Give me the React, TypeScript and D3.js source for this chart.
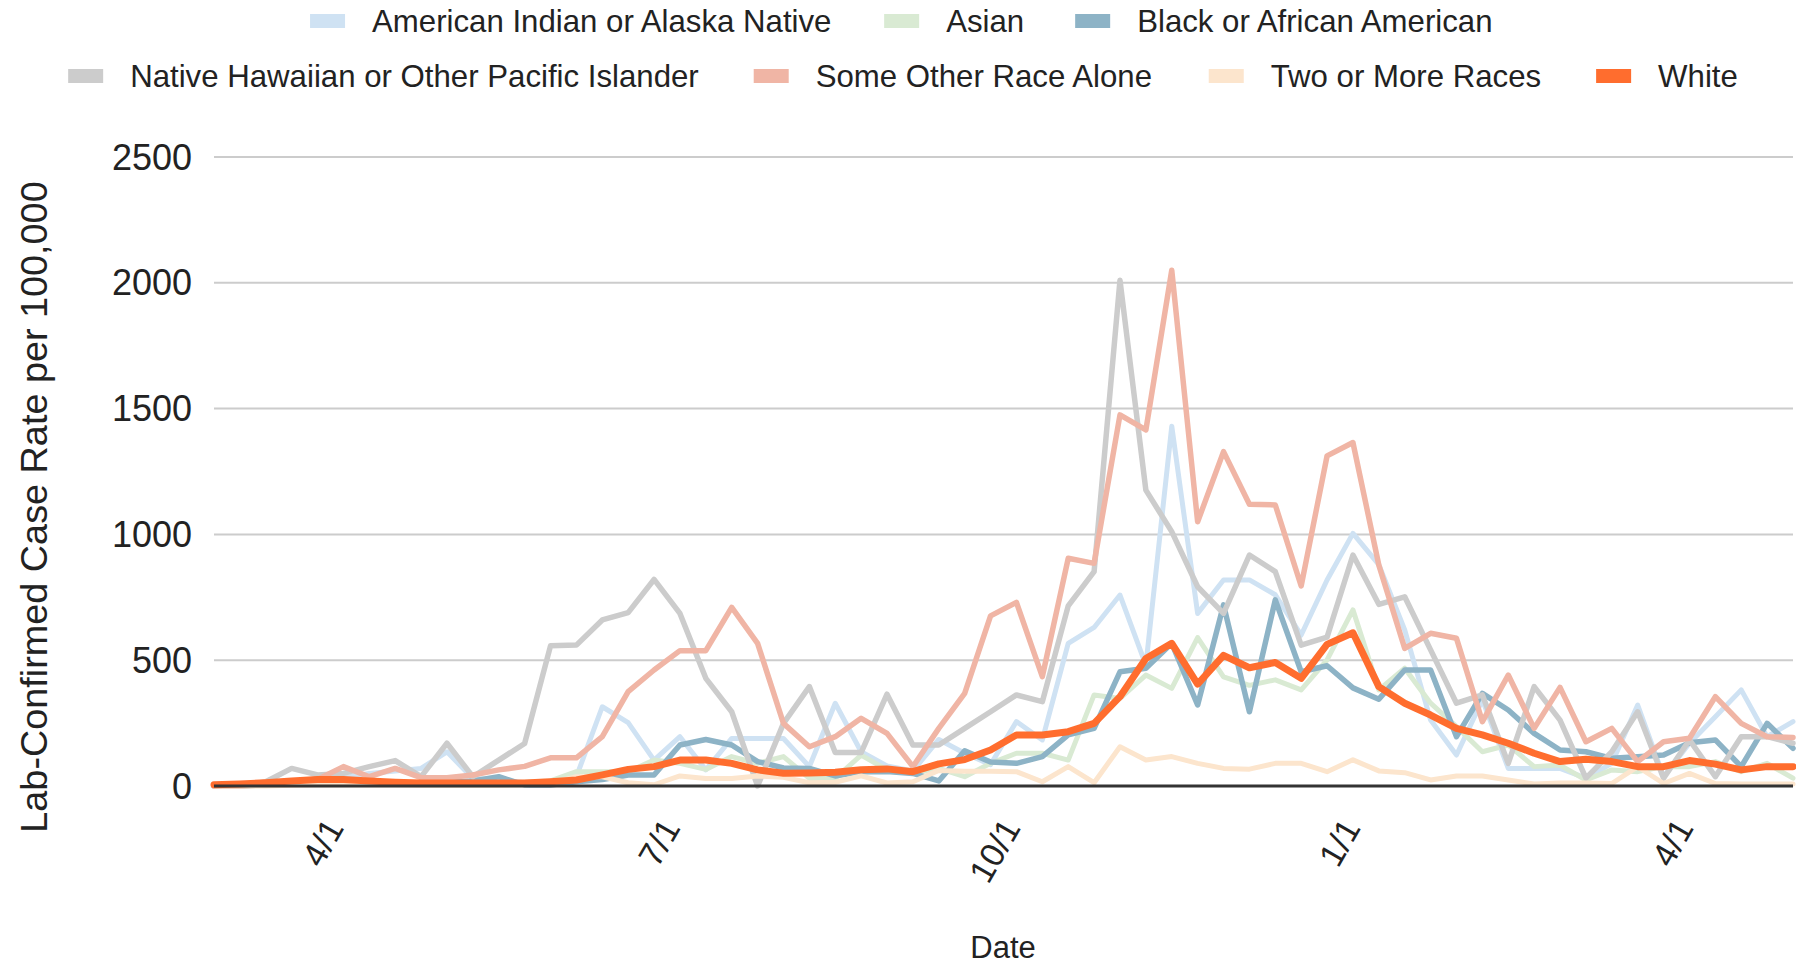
import React, { useEffect } from 'react';
import * as d3 from 'd3';

const weekDates = [
  '2020-02-29','2020-03-07','2020-03-14','2020-03-21','2020-03-28','2020-04-04','2020-04-11','2020-04-18','2020-04-25',
  '2020-05-02','2020-05-09','2020-05-16','2020-05-23','2020-05-30','2020-06-06','2020-06-13','2020-06-20','2020-06-27',
  '2020-07-04','2020-07-11','2020-07-18','2020-07-25','2020-08-01','2020-08-08','2020-08-15','2020-08-22','2020-08-29',
  '2020-09-05','2020-09-12','2020-09-19','2020-09-26','2020-10-03','2020-10-10','2020-10-17','2020-10-24','2020-10-31',
  '2020-11-07','2020-11-14','2020-11-21','2020-11-28','2020-12-05','2020-12-12','2020-12-19','2020-12-26','2021-01-02',
  '2021-01-09','2021-01-16','2021-01-23','2021-01-30','2021-02-06','2021-02-13','2021-02-20','2021-02-27','2021-03-06',
  '2021-03-13','2021-03-20','2021-03-27','2021-04-03','2021-04-10','2021-04-17','2021-04-24','2021-05-01'
];

const aian = [0,0,10,20,25,33,50,60,70,136,30,25,13,10,37,315,252,103,196,64,189,189,189,77,329,136,80,60,185,130,85,256,183,567,630,759,480,1430,686,819,819,760,600,819,1004,880,620,262,123,342,70,70,70,31,90,322,37,170,275,382,196,256];
const asian = [0,0,5,10,15,15,10,10,10,10,10,10,15,20,57,57,57,103,90,66,117,90,117,30,30,123,64,50,70,37,90,130,130,103,362,348,441,388,590,434,400,422,382,501,700,382,468,329,236,136,163,77,83,24,64,57,77,77,97,57,90,31];
const black = [0,0,5,10,15,15,10,10,10,15,20,37,4,4,17,26,44,44,163,185,163,97,72,70,40,57,58,50,20,140,95,90,117,203,229,454,468,567,322,720,295,740,454,478,390,345,461,461,196,368,302,209,143,136,110,116,123,172,183,77,249,150];
const nhpi = [0,0,17,70,44,50,77,101,37,170,37,103,169,557,560,660,689,821,686,428,295,0,249,395,133,133,365,163,163,229,295,362,335,716,852,2010,1176,1011,792,686,918,852,560,592,918,722,752,541,329,362,90,395,262,31,136,295,31,183,37,196,196,170];
const otherRace = [0,0,5,15,26,77,37,70,33,33,44,64,78,112,112,196,375,461,538,538,710,567,249,156,196,269,209,77,229,368,676,730,435,905,885,1475,1415,2050,1050,1329,1120,1117,795,1312,1365,878,547,607,587,256,441,229,392,176,229,97,176,190,355,249,196,193];
const twoOrMore = [0,0,0,3,5,5,5,5,3,3,3,3,5,10,37,37,13,5,40,30,30,40,35,13,15,40,12,17,62,59,59,57,17,77,13,156,103,117,90,70,67,90,90,57,104,60,53,24,40,40,24,8,12,12,10,77,10,50,10,8,8,8];
const white = [5,8,13,20,26,26,20,15,12,12,12,12,12,17,24,44,66,77,103,103,90,64,51,52,55,65,68,57,88,105,143,203,203,216,249,355,507,567,405,519,470,491,428,563,609,395,329,282,229,203,170,130,97,106,97,77,77,101,87,64,77,77];

const seriesNames = [
  'American Indian or Alaska Native', 'Asian', 'Black or African American',
  'Native Hawaiian or Other Pacific Islander', 'Some Other Race Alone', 'Two or More Races', 'White'
];
const seriesValues = [aian, asian, black, nhpi, otherRace, twoOrMore, white];
const seriesColors = ['#cfe2f3', '#d9ead3', '#8db3c6', '#cccccc', '#f0b5a5', '#fce5cd', '#ff6d2e'];
const seriesWidths = [5, 5, 5.5, 5.5, 5.5, 5, 7];

const yTickValues = [0, 500, 1000, 1500, 2000, 2500];
const xTickDates = ['2020-04-01', '2020-07-01', '2020-10-01', '2021-01-01', '2021-04-01'];

const W = 1796;
const H = 966;
const PLOT = { left: 214, right: 1793, top: 157, bottom: 786 };
const FONT = "'Liberation Sans', Arial, sans-serif";

function measure(text: string, size: number): number {
  const c = document.createElement('canvas');
  const ctx = c.getContext('2d');
  if (!ctx) return text.length * size * 0.5;
  ctx.font = `${size}px 'Liberation Sans', Arial, sans-serif`;
  return ctx.measureText(text).width;
}

export default function App() {
  useEffect(() => {
    document.body.style.margin = '0';
  }, []);

  const parse = d3.timeParse('%Y-%m-%d');
  const dates = weekDates.map((s) => parse(s) as Date);
  const x = d3.scaleTime().domain([dates[0], dates[dates.length - 1]]).range([PLOT.left, PLOT.right]);
  const y = d3.scaleLinear().domain([0, 2500]).range([PLOT.bottom, PLOT.top]);
  const fmt = d3.timeFormat('%-m/%-d');

  const line = d3
    .line<number>()
    .x((_, i) => x(dates[i]))
    .y((d) => y(d));

  // legend layout
  const legendSize = 31.2;
  const swW = 35;
  const swH = 14;
  const swGap = 27;
  const itemGaps = [51, 55];
  const rows = [[0, 1, 2], [3, 4, 5, 6]];
  const rowY = [21, 76];
  const legendCenter = 903;
  const legendItems: { i: number; sx: number; tx: number; cy: number }[] = [];
  rows.forEach((row, r) => {
    const widths = row.map((i) => measure(seriesNames[i], legendSize));
    const total = widths.reduce((a, w) => a + swW + swGap + w, 0) + itemGaps[r] * (row.length - 1);
    let cx = legendCenter - total / 2;
    row.forEach((i, j) => {
      legendItems.push({ i, sx: cx, tx: cx + swW + swGap, cy: rowY[r] });
      cx += swW + swGap + widths[j] + itemGaps[r];
    });
  });

  return (
    <svg width={W} height={H} style={{ display: 'block', background: '#fff' }} fontFamily={FONT}>
      {/* gridlines */}
      {yTickValues.filter((v) => v > 0).map((v) => (
        <line key={'g' + v} x1={PLOT.left} x2={PLOT.right} y1={y(v)} y2={y(v)} stroke="#cccccc" strokeWidth={2} />
      ))}
      {/* y tick labels */}
      {yTickValues.map((v) => (
        <text key={'yt' + v} x={192} y={y(v)} dy="0.35em" textAnchor="end" fontSize={36} fill="#222">
          {v}
        </text>
      ))}
      {/* series */}
      {seriesValues.map((vals, si) => (
        <path
          key={'s' + si}
          d={line(vals) || ''}
          fill="none"
          stroke={seriesColors[si]}
          strokeWidth={seriesWidths[si]}
          strokeLinejoin="round"
          strokeLinecap="round"
        />
      ))}
      {/* baseline */}
      <line x1={PLOT.left} x2={PLOT.right} y1={y(0)} y2={y(0)} stroke="#333333" strokeWidth={3} />
      {/* x tick labels */}
      {xTickDates.map((s) => {
        const d = parse(s) as Date;
        const tx = x(d) + 2;
        const ty = PLOT.bottom + 36;
        return (
          <text
            key={'xt' + s}
            transform={`translate(${tx},${ty}) rotate(-60)`}
            textAnchor="end"
            dy="0.35em"
            fontSize={34}
            fill="#222"
          >
            {fmt(d)}
          </text>
        );
      })}
      {/* axis titles */}
      <text x={1003} y={958} textAnchor="middle" fontSize={31} fill="#222">
        Date
      </text>
      <text transform="translate(34,507) rotate(-90)" textAnchor="middle" dy="0.35em" fontSize={37.8} fill="#222">
        Lab-Confirmed Case Rate per 100,000
      </text>
      {/* legend */}
      {legendItems.map((it) => (
        <g key={'lg' + it.i}>
          <rect x={it.sx} y={it.cy - swH / 2} width={swW} height={swH} fill={seriesColors[it.i]} />
          <text x={it.tx} y={it.cy} dy="0.35em" fontSize={legendSize} fill="#222">
            {seriesNames[it.i]}
          </text>
        </g>
      ))}
    </svg>
  );
}
